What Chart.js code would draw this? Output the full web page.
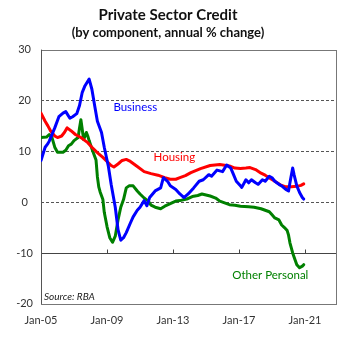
<!DOCTYPE html>
<html>
<head>
<meta charset="utf-8">
<script src="https://cdn.jsdelivr.net/npm/chart.js@4.4.1/dist/chart.umd.min.js"></script>
<style>
  html, body { margin: 0; padding: 0; background: #fff; }
  #wrap { width: 348px; height: 342px; }
</style>
</head>
<body>
<div id="wrap"><canvas id="grafico" width="348" height="342"></canvas></div>
<script>
// ── Datos (meses desde Jan-05, % anual) ──────────────────────────
var businessMonths = [0, 3, 5, 6, 10, 13, 16, 18, 21, 23, 26, 28, 30, 32, 35, 37, 39, 41, 44, 46, 49, 51, 54, 56, 58, 60, 62, 65, 67, 70, 72, 75, 77, 79, 83, 87, 89, 92, 94, 98, 101, 104, 107, 111, 115, 118, 122, 124, 128, 132, 135, 138, 140, 142, 145, 146, 149, 151, 153, 156, 158, 161, 163, 166, 168, 170, 173, 175, 178, 180, 181, 183, 184, 186, 188, 190, 191];
var businessValues = [8.2, 10.8, 11.5, 12, 14.6, 16.8, 17.5, 17.8, 16.5, 16.8, 17.4, 19, 21.6, 22.9, 24.2, 22.2, 19, 15.9, 13.7, 10.8, 7, 3.5, -1, -5.4, -7.5, -7, -6, -4.1, -2.9, -1.6, -1, 0.3, -0.7, 0.9, 2.2, 2.8, 4.8, 4.1, 3.2, 2.5, 1.6, 0.9, 1.6, 2.8, 4.1, 4.4, 5.4, 5.1, 6.3, 6, 7.3, 6.7, 5.4, 4.1, 3.2, 2.9, 4.4, 3.8, 4.4, 3.8, 3.5, 4.4, 4.1, 5.1, 4.8, 4.1, 3.5, 3.2, 2.5, 2.2, 3.8, 6.7, 5.4, 3.2, 1.9, 0.9, 0.6];

var housingMonths = [0, 3, 5, 7, 10, 12, 15, 17, 19, 22, 25, 27, 29, 32, 34, 37, 40, 42, 45, 48, 51, 53, 56, 59, 62, 65, 70, 75, 80, 85, 90, 94, 98, 101, 105, 109, 116, 123, 130, 137, 141, 145, 149, 152, 156, 160, 163, 167, 170, 174, 178, 182, 186, 189, 191];
var housingValues = [17.5, 15.9, 15, 14, 13, 12.7, 13, 13.7, 14.6, 14, 13.3, 13, 12.7, 12.1, 11.7, 10.8, 10, 9.5, 8.8, 8, 7.2, 6.9, 7.5, 8.2, 8.4, 8, 7, 6, 5.6, 5.3, 4.8, 4.5, 4.5, 4.8, 5.2, 5.8, 6.6, 7.2, 7.4, 7.1, 6.7, 6.6, 6.7, 6.8, 6.4, 5.7, 5.3, 4.6, 4.1, 3.4, 3, 3, 3.1, 3.3, 3.6];

var otherMonths = [0, 4, 6, 8, 10, 12, 16, 18, 20, 22, 24, 27, 28, 29, 30, 31, 33, 34, 35, 37, 40, 41, 42, 43, 45, 46, 48, 50, 52, 54, 56, 58, 60, 62, 64, 67, 70, 72, 75, 78, 80, 83, 87, 90, 94, 98, 101, 106, 110, 114, 117, 120, 123, 127, 130, 134, 137, 141, 145, 151, 155, 160, 163, 166, 168, 170, 173, 175, 177, 179, 180, 181, 183, 184, 186, 188, 190, 191];
var otherValues = [12.7, 12.8, 13.3, 12.7, 10.8, 9.8, 9.8, 10.2, 11.1, 11.4, 12.1, 12.7, 14.6, 16.2, 14.3, 12.3, 13.7, 13, 12.1, 10.5, 8.3, 5, 3, 2, 0.5, -2, -4.8, -7, -7.9, -6.7, -3.5, -1, 0.5, 2.8, 3.2, 3.2, 2.2, 1.6, 0.8, 0.2, -0.6, -1, -1.3, -0.8, -0.3, 0.2, 0.3, 0.6, 1.1, 1.3, 1.6, 1.4, 1.2, 0.8, 0.2, -0.2, -0.5, -0.6, -0.8, -0.9, -1, -1.3, -1.6, -1.9, -2.5, -3.1, -3.5, -4.5, -5, -5.6, -6.5, -8, -10, -10.8, -12.3, -12.9, -12.6, -12.3];

// Ejes
var xTickMonths = [0, 48, 96, 144, 192];
var xTickLabels = ['Jan-05', 'Jan-09', 'Jan-13', 'Jan-17', 'Jan-21'];
var xMax = 214.5;
var yMin = -20, yMax = 30, yStep = 10;
var dashedLines = [0, 10, 20];
var axisCrossValue = -10;

function aPuntos(meses, valores) {
    return meses.map(function(m, i) { return { x: m, y: valores[i] }; });
}

var fuente = 'Lato, "Open Sans", "DejaVu Sans", sans-serif';

// ── Plugin: rejilla punteada, eje en -10, caja y rótulos ─────────
var decoracion = {
    id: 'decoracion',
    beforeDatasetsDraw: function(chart) {
        var ctx = chart.ctx, area = chart.chartArea;
        var xs = chart.scales.x, ys = chart.scales.y;
        ctx.save();
        // líneas punteadas
        ctx.strokeStyle = '#555';
        ctx.lineWidth = 1;
        ctx.setLineDash([3, 2]);
        dashedLines.forEach(function(v) {
            var y = Math.round(ys.getPixelForValue(v)) + 0.5;
            ctx.beginPath();
            ctx.moveTo(area.left, y);
            ctx.lineTo(area.right, y);
            ctx.stroke();
        });
        ctx.setLineDash([]);
        // eje horizontal en -10 con marcas
        ctx.strokeStyle = '#444';
        var yEje = Math.round(ys.getPixelForValue(axisCrossValue)) + 0.5;
        ctx.beginPath();
        ctx.moveTo(area.left, yEje);
        ctx.lineTo(area.right, yEje);
        xTickMonths.forEach(function(m) {
            var x = Math.round(xs.getPixelForValue(m)) + 0.5;
            ctx.moveTo(x, yEje);
            ctx.lineTo(x, yEje - 4);
        });
        ctx.stroke();
        // caja
        ctx.strokeStyle = '#777';
        ctx.strokeRect(Math.round(area.left) + 0.5, Math.round(area.top) + 0.5,
                       Math.round(area.right - area.left), Math.round(area.bottom - area.top));
        ctx.strokeStyle = '#555';
        ctx.beginPath();
        ctx.moveTo(Math.round(area.left) + 0.5, area.top);
        ctx.lineTo(Math.round(area.left) + 0.5, area.bottom);
        ctx.stroke();
        ctx.restore();
    },
    afterDatasetsDraw: function(chart) {
        var ctx = chart.ctx, area = chart.chartArea;
        var xs = chart.scales.x, ys = chart.scales.y;
        ctx.save();
        ctx.textAlign = 'center';
        ctx.textBaseline = 'middle';
        ctx.font = '11.5px ' + fuente;
        ctx.fillStyle = '#0000ff';
        ctx.fillText('Business', xs.getPixelForValue(68.6), ys.getPixelForValue(18.7));
        ctx.fillStyle = '#ff0000';
        ctx.fillText('Housing', xs.getPixelForValue(97), ys.getPixelForValue(8.9));
        ctx.fillStyle = '#008000';
        ctx.fillText('Other Personal', xs.getPixelForValue(166.7), ys.getPixelForValue(-14.4));
        ctx.textAlign = 'left';
        ctx.fillStyle = '#222';
        ctx.font = 'italic 10px ' + fuente;
        ctx.fillText('Source: RBA', area.left + 3, area.bottom - 7);
        ctx.restore();
    }
};

new Chart(document.getElementById('grafico'), {
    type: 'line',
    data: {
        datasets: [
            { label: 'Business', data: aPuntos(businessMonths, businessValues),
              borderColor: '#0000ff', order: 0 },
            { label: 'Housing', data: aPuntos(housingMonths, housingValues),
              borderColor: '#ff0000', order: 1 },
            { label: 'Other Personal', data: aPuntos(otherMonths, otherValues),
              borderColor: '#008000', order: 2 }
        ]
    },
    options: {
        responsive: false,
        animation: false,
        elements: {
            line: { borderWidth: 3, tension: 0, fill: false, borderJoinStyle: 'round', borderCapStyle: 'round' },
            point: { radius: 0 }
        },
        layout: { padding: { left: 0, right: 12, top: 0, bottom: 5 } },
        plugins: {
            legend: { display: false },
            tooltip: { enabled: false },
            title: {
                display: true,
                text: 'Private Sector Credit',
                color: '#111',
                font: { family: fuente, size: 15, weight: 'bold' },
                padding: { top: 6, bottom: 0 }
            },
            subtitle: {
                display: true,
                text: '(by component, annual % change)',
                color: '#111',
                font: { family: fuente, size: 13, weight: 'bold' },
                padding: { top: 1, bottom: 9 }
            }
        },
        scales: {
            x: {
                type: 'linear',
                min: 0,
                max: xMax,
                afterBuildTicks: function(scale) {
                    scale.ticks = xTickMonths.map(function(m) { return { value: m }; });
                },
                ticks: {
                    padding: 10,
                    maxRotation: 0,
                    autoSkip: false,
                    color: '#333',
                    font: { family: fuente, size: 11 },
                    callback: function(value) {
                        var i = xTickMonths.indexOf(value);
                        return i >= 0 ? xTickLabels[i] : '';
                    }
                },
                grid: { display: false, drawTicks: false },
                border: { display: false }
            },
            y: {
                min: yMin,
                max: yMax,
                afterFit: function(scale) { scale.width = 41; },
                ticks: {
                    stepSize: yStep,
                    padding: 8,
                    crossAlign: 'center',
                    color: '#333',
                    font: { family: fuente, size: 11 }
                },
                grid: { display: false, drawTicks: false },
                border: { display: false }
            }
        }
    },
    plugins: [decoracion]
});
</script>
</body>
</html>
